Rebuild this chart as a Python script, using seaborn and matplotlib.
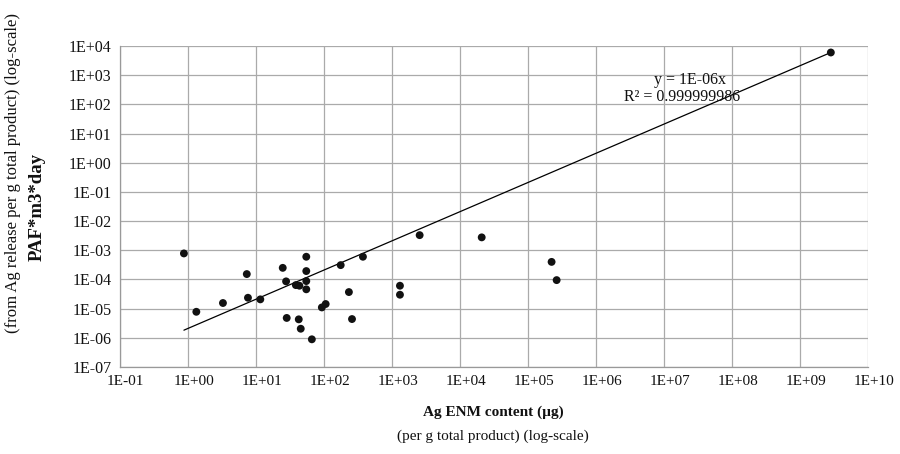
import numpy as np
import pandas as pd
import matplotlib
matplotlib.use("Agg")
import matplotlib.pyplot as plt
import matplotlib.transforms as mtransforms
import seaborn as sns
from matplotlib.ticker import LogLocator, FuncFormatter, NullLocator

# Data
content_ug = [0.88, 1.34, 3.3, 7.4, 7.7, 11.7, 25, 28, 28.6, 39, 44, 43, 46,
              55.5, 55.5, 55.5, 55.5, 67, 94, 107, 178, 235, 261, 378,
              1324, 1324, 2580, 21100, 225000, 267000, 2.88e9]
paf = [7.8e-4, 7.8e-6, 1.56e-5, 1.53e-4, 2.36e-5, 2.08e-5, 2.5e-4, 8.6e-5, 4.8e-6,
       6.4e-5, 6.1e-5, 4.3e-6, 2.05e-6, 6.0e-4, 1.94e-4, 8.8e-5, 4.6e-5, 8.9e-7,
       1.1e-5, 1.44e-5, 3.1e-4, 3.7e-5, 4.4e-6, 6.0e-4, 6.1e-5, 3.0e-5, 3.3e-3,
       2.77e-3, 4.0e-4, 9.5e-5, 5990]
eq_text = "y = 1E-06x"
r2_text = "R\u00b2 = 0.999999986"

df = pd.DataFrame({"x": content_ug, "y": paf})
xs = np.array(content_ug)
ys = np.array(paf)
slope = (xs * ys).sum() / (xs * xs).sum()
trend = pd.DataFrame({"x": [xs.min(), xs.max()]})
trend["y"] = slope * trend["x"]

sns.set_style("white")
plt.rcParams["font.family"] = ["Liberation Serif", "DejaVu Serif"]

fig = plt.figure(figsize=(9, 4.54), dpi=100)
ax = fig.add_axes([0.133, 0.1916, 0.831, 0.7071])

ax.set_xscale("log")
ax.set_yscale("log")
sns.lineplot(data=trend, x="x", y="y", ax=ax, color="black", linewidth=0.9, zorder=3)
sns.scatterplot(data=df, x="x", y="y", ax=ax, color="#111111", s=32,
                edgecolor="none", zorder=4)

ax.set_xlim(1e-1, 1e10)
ax.set_ylim(1e-7, 1e4)
ax.xaxis.set_major_locator(LogLocator(base=10, numticks=20))
ax.yaxis.set_major_locator(LogLocator(base=10, numticks=20))
ax.xaxis.set_minor_locator(NullLocator())
ax.yaxis.set_minor_locator(NullLocator())
fmt = FuncFormatter(lambda v, p: "1E{:+03d}".format(int(round(np.log10(v)))))
ax.xaxis.set_major_formatter(fmt)
ax.yaxis.set_major_formatter(fmt)

ax.grid(True, color="#aaaaaa", linewidth=0.9)
ax.set_axisbelow(True)
for s in ["top", "right"]:
    ax.spines[s].set_visible(False)
for s in ["left", "bottom"]:
    ax.spines[s].set_color("#999999")
    ax.spines[s].set_linewidth(0.9)
ax.tick_params(axis="x", which="major", length=4, color="#999999",
               labelsize=11, labelcolor="#111111", pad=2, direction="out")
ax.tick_params(axis="y", which="major", length=4, color="#999999",
               labelsize=11.5, labelcolor="#111111", pad=2, direction="out")
ax.set_xlabel("")
ax.set_ylabel("")

# x tick labels sit slightly right of their gridlines in the reference
offset = mtransforms.ScaledTranslation(6 / 100, 0, fig.dpi_scale_trans)
for lab in ax.get_xticklabels():
    lab.set_transform(lab.get_transform() + offset)

fig.text(0.767, 0.824, eq_text, ha="center", va="center", fontsize=11.5, color="#111111")
fig.text(0.758, 0.786, r2_text, ha="center", va="center", fontsize=11.5, color="#111111")

fig.text(0.041, 0.545, "PAF*m3*day", rotation=90, ha="center", va="center",
         fontsize=13.5, fontweight="bold", color="#111111")
fig.text(0.015, 0.619, "(from Ag release per g total product) (log-scale)", rotation=90,
         ha="center", va="center", fontsize=12, color="#111111")
fig.text(0.548, 0.093, "Ag ENM content (\u00b5g)", ha="center", va="center",
         fontsize=11, fontweight="bold", color="#111111")
fig.text(0.548, 0.040, "(per g total product) (log-scale)", ha="center", va="center",
         fontsize=11, color="#111111")

fig.savefig("out.png", dpi=100)
